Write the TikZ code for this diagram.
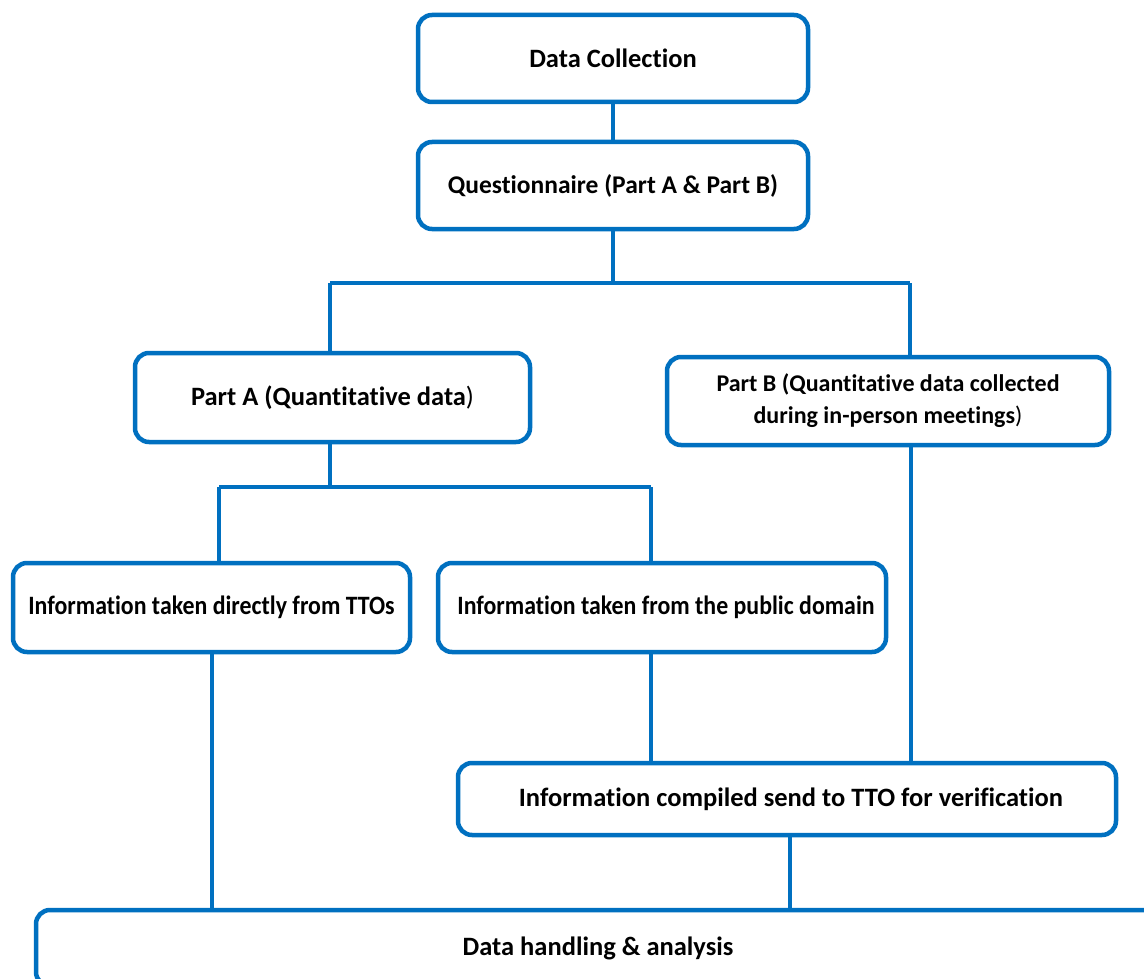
\documentclass[tikz,border=0pt]{standalone}
\usepackage{fontspec}
\usepackage{graphicx}
\setmainfont{Carlito}[Ligatures=NoCommon]
\definecolor{flowblue}{RGB}{0,112,192}
% a narrower setting of the same face for the two wide labels
\newcommand{\narrowtext}[1]{\scalebox{0.9}[1]{#1}}
\newcommand{\thinparen}{{\mdseries )}}
\begin{document}
\begin{tikzpicture}[x=1pt,y=-1pt,
  box/.style={draw=flowblue, line width=4.5pt, rounded corners=14pt, fill=white,
    inner sep=0pt, align=center, text=black,
    font=\bfseries\fontsize{26.5}{32}\selectfont},
  link/.style={draw=flowblue, line width=4pt}]
\useasboundingbox (0,0) rectangle (1144,979);
\clip (0,0) rectangle (1144,979);

% junction points of the branching connectors
\coordinate (jq)  at (613,283);
\coordinate (jql) at (330,283);
\coordinate (jqr) at (910,283);
\coordinate (ja)  at (330,487);
\coordinate (jal) at (219,487);
\coordinate (jar) at (651,487);
% x positions of the remaining vertical connectors
\coordinate (tl) at (212,0);
\coordinate (br) at (911,0);
\coordinate (cl) at (790,0);

% boxes
\node[box, minimum width=390, minimum height=87] (dc) at (613,58.5) {Data Collection};
\node[box, minimum width=390, minimum height=87, font=\bfseries\fontsize{25.5}{32}\selectfont] (q) at (613,185.5)
  {Questionnaire (Part A \& Part B)};
\node[box, minimum width=395, minimum height=89] (pa) at (332.5,397.5) {Part A (Quantitative data\thinparen};
\node[box, minimum width=442, minimum height=88, font=\bfseries\fontsize{24}{32}\selectfont] (pb) at (888,401)
  {\raisebox{-3pt}{\parbox{430pt}{\centering Part B (Quantitative data collected\\during in-person meetings\thinparen}}};
\node[box, minimum width=397, minimum height=89] (tto) at (211.5,607.5)
  {\narrowtext{Information taken directly from TTOs}};
\node[box, minimum width=448, minimum height=89] (pub) at (662,607.5)
  {\hspace*{8pt}\narrowtext{Information taken from the public domain}};
\node[box, minimum width=658, minimum height=72] (comp) at (787,799)
  {\hspace*{8pt}Information compiled send to TTO for verification};
\node[box, minimum width=1124, minimum height=76] (dh) at (598,948) {Data handling \& analysis};

% connectors between the boxes
\draw[link] (dc.south) -- (q.north);
\draw[link] (q.south) -- (jq);
\draw[link] (jql) -- (jqr);
\draw[link] (jql) -- (jql |- pa.north);
\draw[link] (jqr) -- (jqr |- pb.north);
\draw[link] (pa.south -| ja) -- (ja);
\draw[link] (jal) -- (jar);
\draw[link] (jal) -- (jal |- tto.north);
\draw[link] (jar) -- (jar |- pub.north);
\draw[link] (tl |- tto.south) -- (tl |- dh.north);
\draw[link] (jar |- pub.south) -- (jar |- comp.north);
\draw[link] (br |- pb.south) -- (br |- comp.north);
\draw[link] (cl |- comp.south) -- (cl |- dh.north);
\end{tikzpicture}
\end{document}
